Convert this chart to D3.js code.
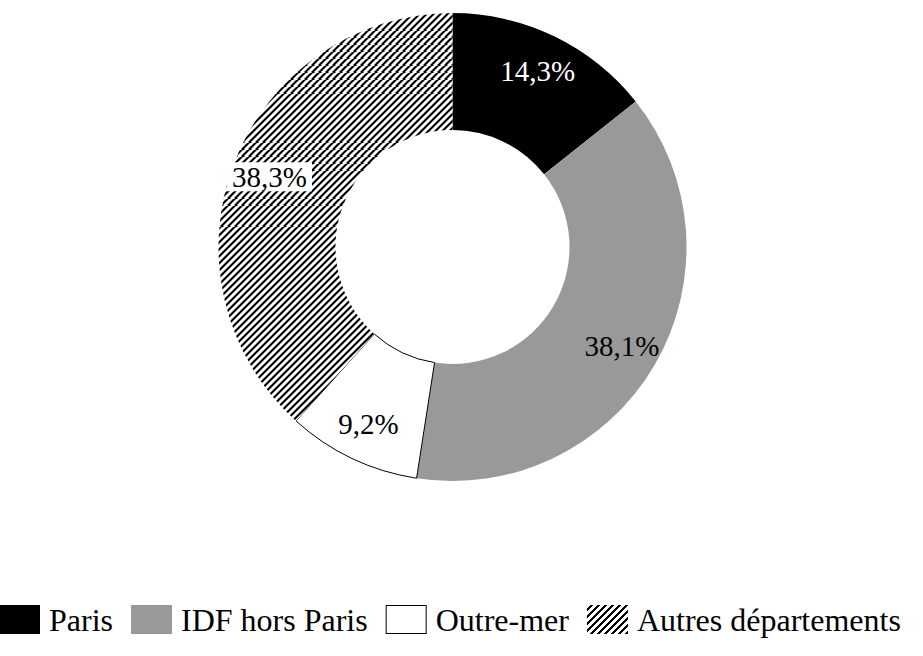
<!DOCTYPE html>
<html>
<head>
<meta charset="utf-8">
<script src="https://cdn.jsdelivr.net/npm/d3@7"></script>
<style>
  html, body { margin: 0; padding: 0; background: #fff; }
  svg { display: block; }
</style>
</head>
<body>
<svg id="chart" width="923" height="656"></svg>
<script>
const categories = ["Paris", "IDF hors Paris", "Outre-mer", "Autres départements"];
const values = [14.3, 38.1, 9.2, 38.3];
const valueLabels = ["14,3%", "38,1%", "9,2%", "38,3%"];

const fills = ["#000000", "#999999", "#ffffff", "url(#hatch)"];
const labelColors = ["#ffffff", "#000000", "#000000", "#000000"];
const FONT = "'Liberation Serif', 'DejaVu Serif', 'Times New Roman', serif";

const svg = d3.select("#chart");
const cx = 452.5, cy = 247, rOuter = 234, rInner = 117, rLabel = 196;

const defs = svg.append("defs");
const pat = defs.append("pattern")
  .attr("id", "hatch")
  .attr("patternUnits", "userSpaceOnUse")
  .attr("width", 7).attr("height", 7);
pat.append("rect").attr("width", 7).attr("height", 7).attr("fill", "#fff");
pat.append("path")
  .attr("d", "M-2,2 l4,-4 M-1,8 l9,-9 M5,9 l4,-4")
  .attr("stroke", "#000").attr("stroke-width", 2.6)
  .attr("shape-rendering", "crispEdges");

const data = categories.map((c, i) => ({ cat: c, value: values[i], label: valueLabels[i], i }));

const pie = d3.pie().sort(null).value(d => d.value).startAngle(0).endAngle(2 * Math.PI);
const arcs = pie(data);
const arc = d3.arc().innerRadius(rInner).outerRadius(rOuter);
const labelArc = d3.arc().innerRadius(rLabel).outerRadius(rLabel);

const g = svg.append("g").attr("transform", `translate(${cx},${cy})`);

g.selectAll("path.slice")
  .data(arcs)
  .join("path")
  .attr("class", "slice")
  .attr("d", arc)
  .attr("fill", d => fills[d.data.i])
  .attr("stroke", d => d.data.i === 2 ? "#000" : "none")
  .attr("stroke-width", d => d.data.i === 2 ? 1 : 0);

const lbl = g.selectAll("g.lbl")
  .data(arcs)
  .join("g")
  .attr("class", "lbl")
  .attr("transform", d => `translate(${labelArc.centroid(d)})`);

lbl.each(function(d) {
  const gg = d3.select(this);
  const t = gg.append("text")
    .attr("text-anchor", "middle")
    .attr("dy", "0.35em")
    .attr("font-family", FONT)
    .attr("font-size", 29)
    .attr("fill", labelColors[d.data.i])
    .text(d.data.label);
  if (d.data.i === 3) {
    const w = t.node().getComputedTextLength();
    gg.insert("rect", "text")
      .attr("x", -w / 2 - 5)
      .attr("y", -14.5)
      .attr("width", w + 10)
      .attr("height", 29)
      .attr("fill", "#fff");
  }
});

// Legend
const legend = svg.append("g").attr("class", "legend");
const swW = 41, swH = 29, swY = 605, textGap = 9, itemGap = 18, baseline = 631;
let x = -1;
data.forEach((d, i) => {
  legend.append("rect")
    .attr("x", i === 2 ? x + 0.5 : x)
    .attr("y", i === 2 ? swY + 0.5 : swY)
    .attr("width", i === 2 ? swW - 1 : swW)
    .attr("height", i === 2 ? swH - 1 : swH)
    .attr("fill", fills[i])
    .attr("stroke", i === 2 ? "#000" : "none")
    .attr("stroke-width", 1);
  const t = legend.append("text")
    .attr("x", x + swW + textGap)
    .attr("y", baseline)
    .attr("font-family", FONT)
    .attr("font-size", 32)
    .attr("fill", "#000")
    .text(d.cat);
  x = x + swW + textGap + t.node().getComputedTextLength() + itemGap;
});
</script>
</body>
</html>
